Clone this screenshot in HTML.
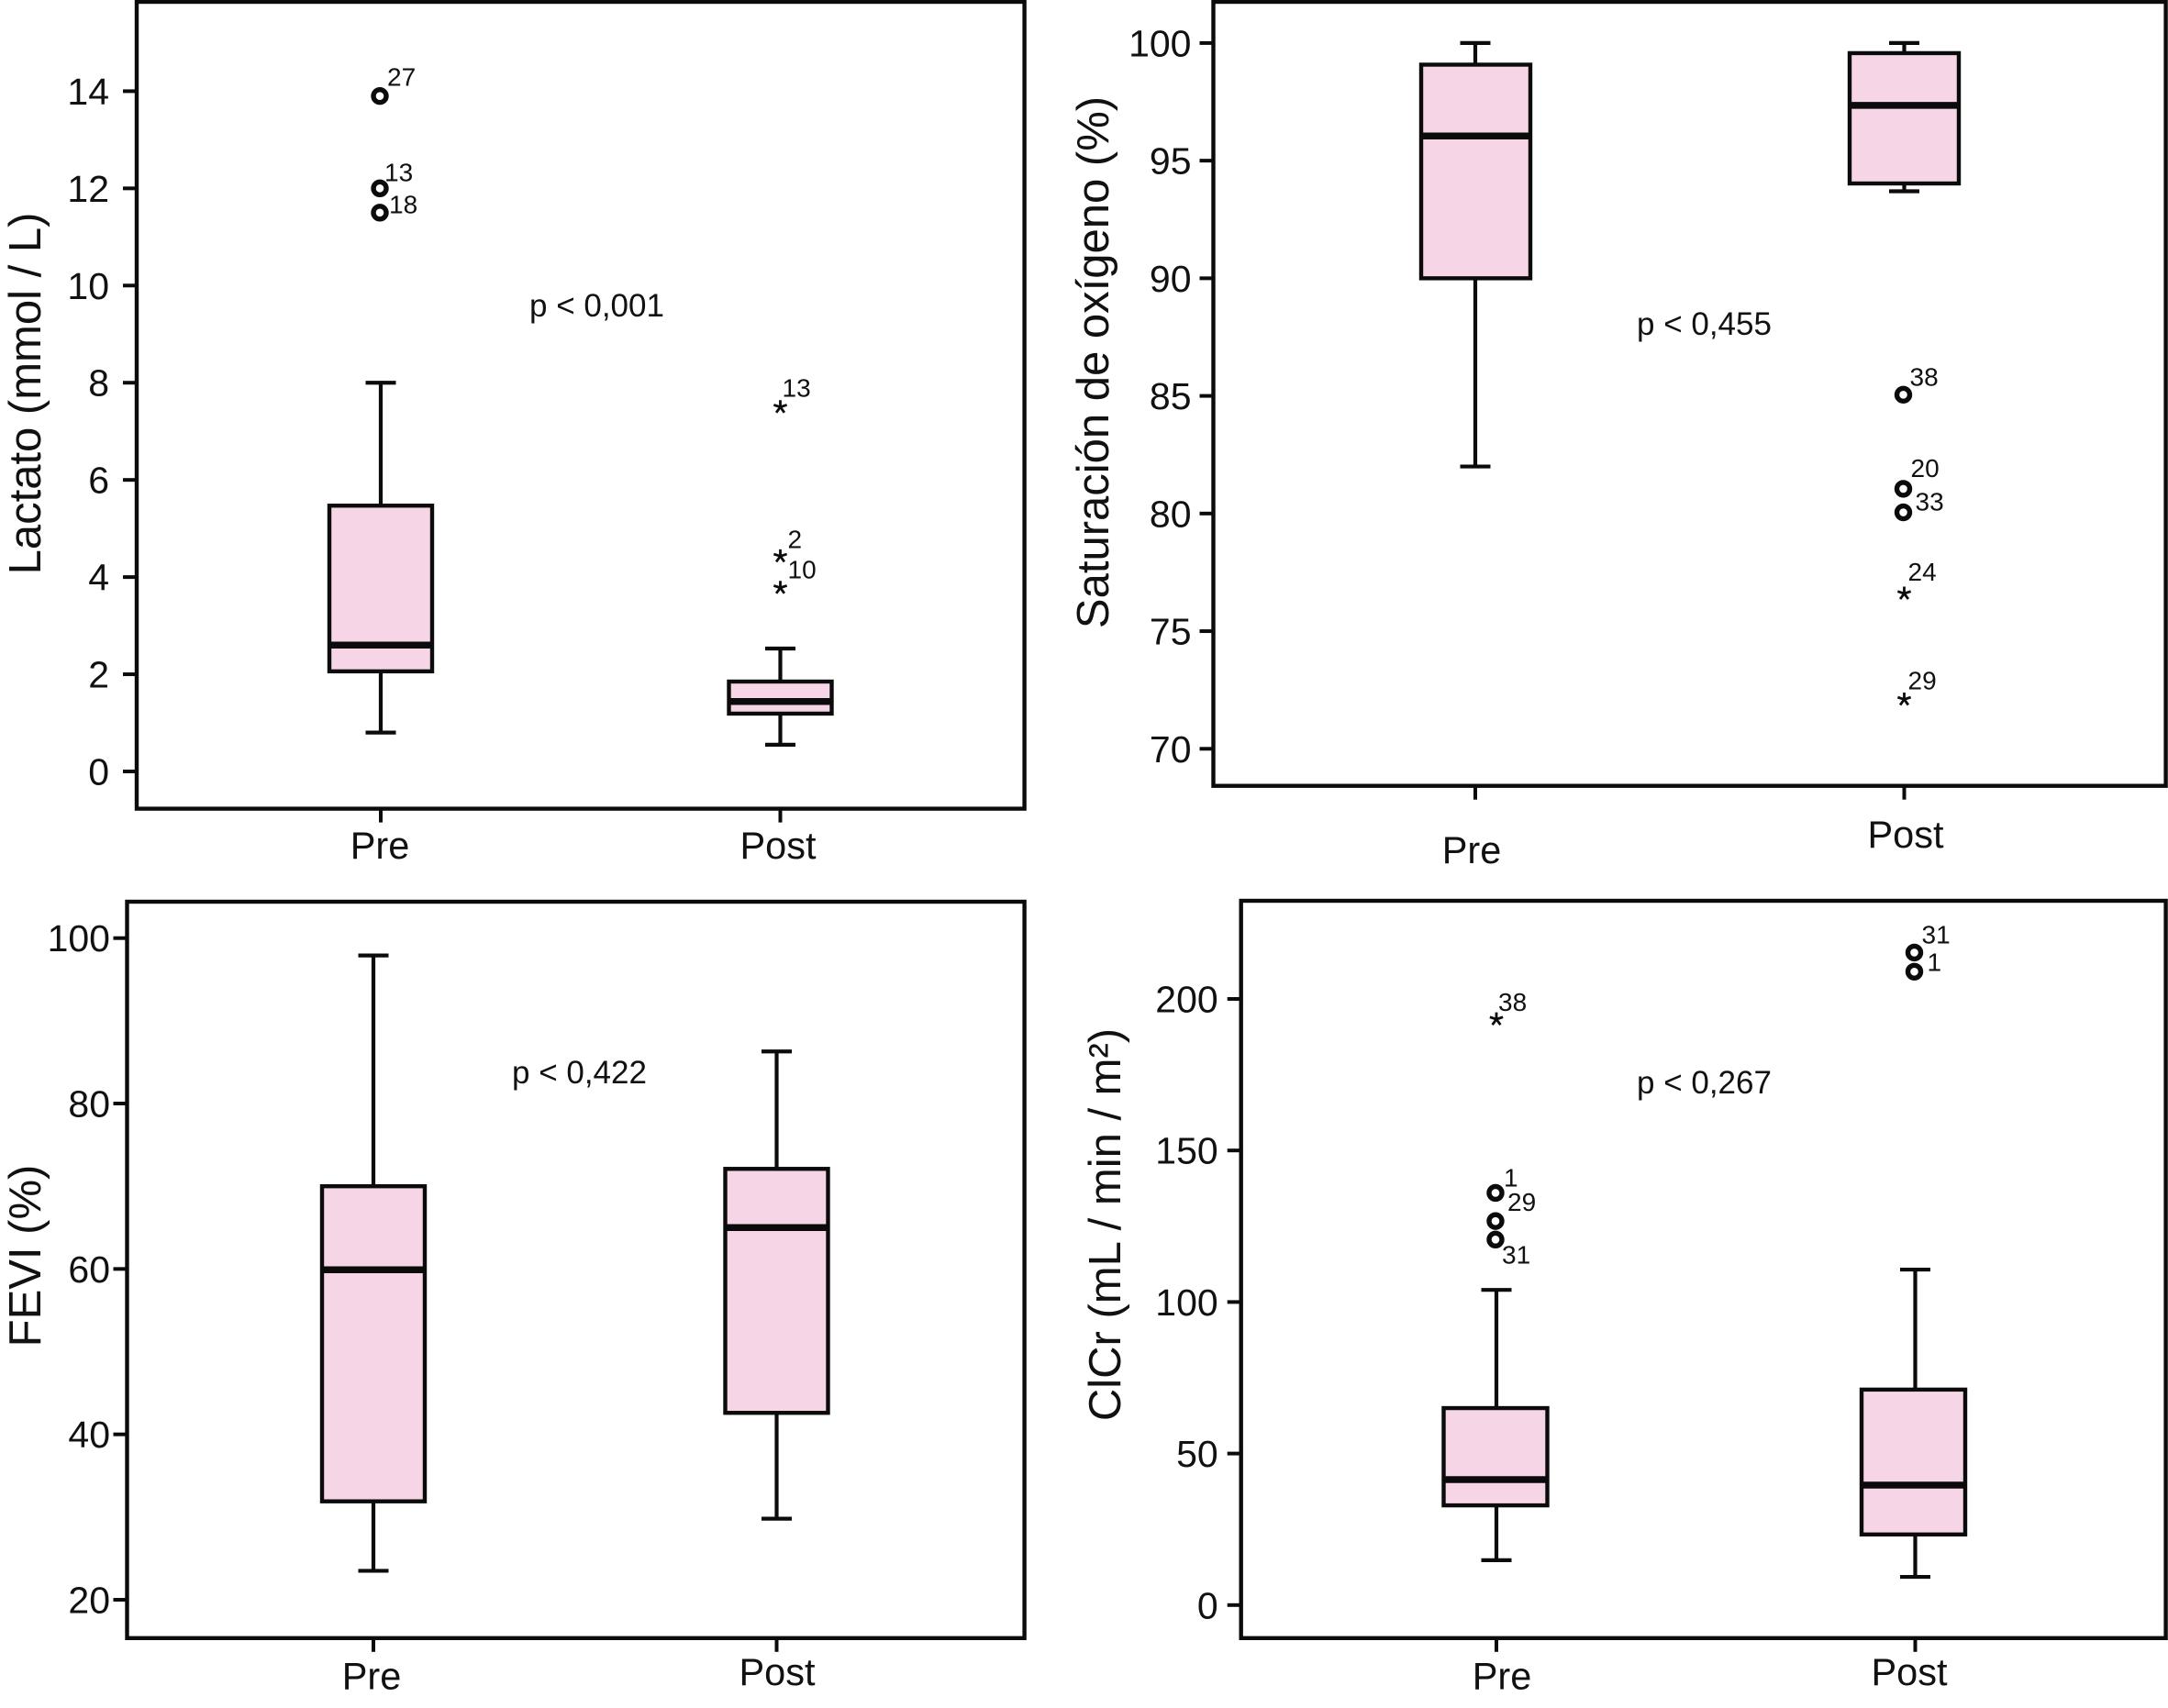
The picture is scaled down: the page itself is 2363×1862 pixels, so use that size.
<!DOCTYPE html>
<html lang="es">
<head>
<meta charset="utf-8">
<title>Diagramas de caja Pre / Post</title>
<style>
  html, body { margin: 0; padding: 0; background: #fff; }
  svg { display: block; }
  text { font-family: "Liberation Sans", Arial, sans-serif; fill: #111; }
</style>
</head>
<body>
<svg id="chart" xmlns="http://www.w3.org/2000/svg" width="2363" height="1862" viewBox="0 0 2363 1862"></svg>
<script>
// ---- Shared categories ----
const categories = ['Pre', 'Post'];

// ---- Lactato ----
const lactatoTicks = [0, 2, 4, 6, 8, 10, 12, 14];
const lactatoWhiskerLow = [0.8, 0.55];
const lactatoQ1 = [2.06, 1.19];
const lactatoMedian = [2.6, 1.44];
const lactatoQ3 = [5.47, 1.85];
const lactatoWhiskerHigh = [8.0, 2.53];
const lactatoOutlierGroup = [0, 0, 0, 1, 1, 1];
const lactatoOutlierValues = [13.9, 12.0, 11.5, 7.5, 4.43, 3.78];
const lactatoOutlierIds = ['27', '13', '18', '13', '2', '10'];
const lactatoOutlierKinds = ['o', 'o', 'o', '*', '*', '*'];

// ---- Saturación de oxígeno ----
const saturacionTicks = [70, 75, 80, 85, 90, 95, 100];
const saturacionWhiskerLow = [82, 93.7];
const saturacionQ1 = [90, 94.03];
const saturacionMedian = [96.05, 97.35];
const saturacionQ3 = [99.08, 99.57];
const saturacionWhiskerHigh = [100, 100];
const saturacionOutlierGroup = [1, 1, 1, 1, 1];
const saturacionOutlierValues = [85.05, 81.05, 80.05, 76.6, 72.1];
const saturacionOutlierIds = ['38', '20', '33', '24', '29'];
const saturacionOutlierKinds = ['o', 'o', 'o', '*', '*'];

// ---- FEVI ----
const feviTicks = [20, 40, 60, 80, 100];
const feviWhiskerLow = [23.5, 29.8];
const feviQ1 = [31.9, 42.6];
const feviMedian = [59.9, 65];
const feviQ3 = [70, 72.1];
const feviWhiskerHigh = [97.9, 86.3];
const feviOutlierGroup = [];
const feviOutlierValues = [];
const feviOutlierIds = [];
const feviOutlierKinds = [];

// ---- ClCr ----
const clcrTicks = [0, 50, 100, 150, 200];
const clcrWhiskerLow = [14.8, 9.3];
const clcrQ1 = [32.9, 23.3];
const clcrMedian = [41.4, 39.6];
const clcrQ3 = [65, 71.1];
const clcrWhiskerHigh = [104, 110.7];
const clcrOutlierGroup = [0, 0, 0, 0, 1, 1];
const clcrOutlierValues = [193.3, 136, 126.7, 120.6, 215.3, 209];
const clcrOutlierIds = ['38', '1', '29', '31', '31', '1'];
const clcrOutlierKinds = ['*', 'o', 'o', 'o', 'o', 'o'];

// ---- Panel layout (geometry only; the values above drive every mark) ----
const panels = [
  {
    key: 'lactato', title: 'Lactato (mmol / L)', pText: 'p < 0,001',
    frame: { l: 149, r: 1116.6, t: 2, b: 881.6 },
    yA: { v: 0, px: 841 }, yB: { v: 14, px: 99.4 },
    xPre: 415, xPost: 850.5, tickLabelGap: 30, boxHalf: 56, boxShift: [0, 0],
    titleX: 44, titleY: 429, pX: 577, pY: 345,
    catLabels: [{ x: 414, y: 936 }, { x: 848, y: 936 }],
    labelOffsets: [[7, -11], [4, -8], [9, 0.5], [2, -11], [8, -9], [8, -10.5]],
    ticks: lactatoTicks, low: lactatoWhiskerLow, q1: lactatoQ1, med: lactatoMedian, q3: lactatoQ3, high: lactatoWhiskerHigh,
    oGroup: lactatoOutlierGroup, oVal: lactatoOutlierValues, oId: lactatoOutlierIds, oKind: lactatoOutlierKinds
  },
  {
    key: 'saturacion', title: 'Saturación de oxígeno (%)', pText: 'p < 0,455',
    frame: { l: 1322.5, r: 2360.6, t: 2, b: 856.7 },
    yA: { v: 70, px: 816.3 }, yB: { v: 100, px: 46.9 },
    xPre: 1608, xPost: 2075.5, tickLabelGap: 24, boxHalf: 59.5, boxShift: [0.5, 0],
    titleX: 1208, titleY: 395, pX: 1784, pY: 365,
    catLabels: [{ x: 1604, y: 941 }, { x: 2077, y: 924 }],
    labelOffsets: [[6, -10], [7, -13], [12, -2], [4, -14], [4, -11]],
    ticks: saturacionTicks, low: saturacionWhiskerLow, q1: saturacionQ1, med: saturacionMedian, q3: saturacionQ3, high: saturacionWhiskerHigh,
    oGroup: saturacionOutlierGroup, oVal: saturacionOutlierValues, oId: saturacionOutlierIds, oKind: saturacionOutlierKinds
  },
  {
    key: 'fevi', title: 'FEVI (%)', pText: 'p < 0,422',
    frame: { l: 138.5, r: 1116.6, t: 983, b: 1785.8 },
    yA: { v: 20, px: 1744 }, yB: { v: 100, px: 1022.7 },
    xPre: 407, xPost: 846.5, tickLabelGap: 18.5, boxHalf: 56, boxShift: [0, 0],
    titleX: 44, titleY: 1369, pX: 558, pY: 1181,
    catLabels: [{ x: 405, y: 1841.5 }, { x: 847, y: 1837 }],
    labelOffsets: [],
    ticks: feviTicks, low: feviWhiskerLow, q1: feviQ1, med: feviMedian, q3: feviQ3, high: feviWhiskerHigh,
    oGroup: feviOutlierGroup, oVal: feviOutlierValues, oId: feviOutlierIds, oKind: feviOutlierKinds
  },
  {
    key: 'clcr', title: 'ClCr (mL / min / m²)', pText: 'p < 0,267',
    frame: { l: 1352.7, r: 2360.6, t: 982, b: 1785.8 },
    yA: { v: 0, px: 1749.8 }, yB: { v: 200, px: 1089 },
    xPre: 1631, xPost: 2087.5, tickLabelGap: 25, boxHalf: 56.5, boxShift: [-1, -2],
    titleX: 1221, titleY: 1335, pX: 1784, pY: 1192,
    catLabels: [{ x: 1637, y: 1841.5 }, { x: 2081, y: 1837 }],
    labelOffsets: [[2, -9], [8, -7], [12, -11], [6, 26], [7, -10], [13, -1]],
    ticks: clcrTicks, low: clcrWhiskerLow, q1: clcrQ1, med: clcrMedian, q3: clcrQ3, high: clcrWhiskerHigh,
    oGroup: clcrOutlierGroup, oVal: clcrOutlierValues, oId: clcrOutlierIds, oKind: clcrOutlierKinds
  }
];

const NS = 'http://www.w3.org/2000/svg';
const INK = '#0b0b0b';
const FILL = '#f6d5e6';

function add(parent, tag, attrs, name, text) {
  const el = document.createElementNS(NS, tag);
  for (const k in attrs) el.setAttribute(k, attrs[k]);
  
  
  if (text !== undefined) el.textContent = text;
  parent.appendChild(el);
  return el;
}

function line(parent, x1, y1, x2, y2, w, name) {
  return add(parent, 'line', { x1: x1, y1: y1, x2: x2, y2: y2, stroke: INK, 'stroke-width': w }, name);
}

function starPath(cx, cy, r) {
  let d = '';
  for (let i = 0; i < 5; i++) {
    const a = -Math.PI / 2 + i * 2 * Math.PI / 5;
    d += 'M' + cx + ' ' + cy + 'L' + (cx + r * Math.cos(a)).toFixed(2) + ' ' + (cy + r * Math.sin(a)).toFixed(2);
  }
  return d;
}

function drawPanel(p, root) {
  const g = add(root, 'g', {}, p.key + '-panel');
  const f = p.frame;
  const yScale = v => p.yA.px + (v - p.yA.v) * (p.yB.px - p.yA.px) / (p.yB.v - p.yA.v);
  const xScale = i => p.xPre + (i / (categories.length - 1)) * (p.xPost - p.xPre);

  add(g, 'rect', { x: f.l, y: f.t, width: f.r - f.l, height: f.b - f.t, fill: '#fff', stroke: INK, 'stroke-width': 4.4 }, p.key + '-plot-frame');

  // y axis
  p.ticks.forEach(t => {
    const y = yScale(t);
    line(g, f.l - 15, y, f.l, y, 4, p.key + '-y-tick-' + t);
    add(g, 'text', { x: f.l - p.tickLabelGap, y: y + 14.5, 'text-anchor': 'end', 'font-size': 41 }, p.key + '-y-tick-label-' + t, String(t));
  });
  add(g, 'text', {
    x: p.titleX, y: p.titleY, 'text-anchor': 'middle', 'font-size': 49,
    transform: 'rotate(-90 ' + p.titleX + ' ' + p.titleY + ')'
  }, p.key + '-y-axis-title', p.title);

  // x axis and boxes
  categories.forEach((c, i) => {
    const x = xScale(i);
    const slug = p.key + '-' + c.toLowerCase();
    line(g, x, f.b, x, f.b + 15, 4, slug + '-x-tick');
    add(g, 'text', { x: p.catLabels[i].x, y: p.catLabels[i].y, 'text-anchor': 'middle', 'font-size': 41.5 }, slug + '-x-label', c);

    const hw = p.boxHalf, cap = 16.5;
    const bx = x + p.boxShift[i];
    const yLow = yScale(p.low[i]), yHigh = yScale(p.high[i]);
    const yQ1 = yScale(p.q1[i]), yQ3 = yScale(p.q3[i]), yMed = yScale(p.med[i]);
    line(g, x, yLow, x, yHigh, 4.2, slug + '-whisker');
    line(g, x - cap, yLow, x + cap, yLow, 4.2, slug + '-whisker-cap-low');
    line(g, x - cap, yHigh, x + cap, yHigh, 4.2, slug + '-whisker-cap-high');
    add(g, 'rect', { x: bx - hw, y: yQ3, width: 2 * hw, height: yQ1 - yQ3, fill: FILL, stroke: INK, 'stroke-width': 4.4 }, slug + '-box');
    line(g, bx - hw, yMed, bx + hw, yMed, 7.5, slug + '-median');
  });

  // outliers
  p.oVal.forEach((v, j) => {
    const x = xScale(p.oGroup[j]);
    const y = yScale(v);
    const off = p.labelOffsets[j];
    const slug = p.key + '-outlier-' + p.oId[j];
    if (p.oKind[j] === 'o') {
      add(g, 'circle', { cx: x - 1, cy: y, r: 7, fill: 'none', stroke: INK, 'stroke-width': 5.4 }, slug);
    } else {
      add(g, 'path', { d: starPath(x, y, 7.5), fill: 'none', stroke: INK, 'stroke-width': 2.8 }, slug);
    }
    add(g, 'text', { x: x + off[0], y: y + off[1], 'font-size': 28 }, slug + '-label', p.oId[j]);
  });

  // p value
  add(g, 'text', { x: p.pX, y: p.pY, 'font-size': 35 }, p.key + '-p-value', p.pText);
}

const root = document.getElementById('chart');
panels.forEach(p => drawPanel(p, root));
</script>
</body>
</html>
